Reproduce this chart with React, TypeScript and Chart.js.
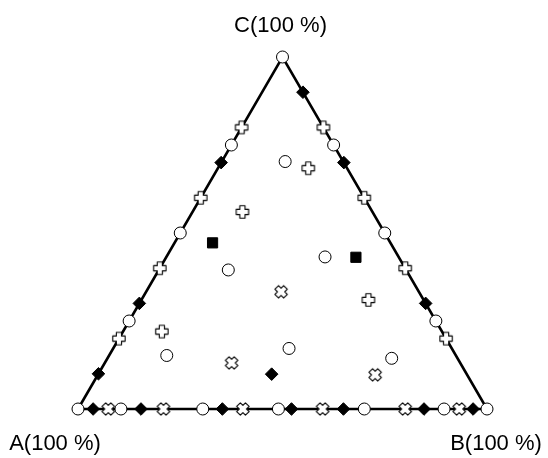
import React, { useEffect, useRef } from "react";
import { Chart, registerables } from "chart.js";

Chart.register(...registerables);

// Compositions as [A %, B %, C %]
const circlePoints: number[][] = [
  [100, 0, 0], [0, 100, 0], [0, 0, 100],
  [89.5, 10.5, 0], [69.5, 30.5, 0], [51, 49, 0], [30, 70, 0], [10.5, 89.5, 0],
  [75, 0, 25], [50, 0, 50], [25, 0, 75],
  [0, 75, 25], [0, 50, 50], [0, 25, 75],
  [43.5, 17, 39.5], [70.7, 14.1, 15.2], [14.2, 15.5, 70.3], [18, 38.8, 43.2],
  [39.8, 43, 17.2], [16.1, 69.5, 14.4],
];
const diamondPoints: number[][] = [
  [96.3, 3.7, 0], [84.6, 15.4, 0], [64.7, 35.3, 0], [47.8, 52.2, 0],
  [35.1, 64.9, 0], [15.4, 84.6, 0], [3.4, 96.6, 0],
  [90, 0, 10], [70, 0, 30], [30, 0, 70],
  [0, 70, 30], [0, 30, 70], [0, 10, 90],
  [47.7, 42.4, 9.9],
];
const squarePoints: number[][] = [
  [43.5, 9.3, 47.2], [10.5, 46.4, 43.1],
];
const plusPoints: number[][] = [
  [80, 0, 20], [60, 0, 40], [40, 0, 60], [20, 0, 80],
  [0, 80, 20], [0, 60, 40], [0, 40, 60], [0, 20, 80],
  [31.8, 12.2, 56], [68.5, 9.5, 22], [9.5, 22.1, 68.4], [13.5, 55.5, 31],
];
const crossPoints: number[][] = [
  [92.6, 7.4, 0], [79.1, 20.9, 0], [59.7, 40.3, 0], [40.2, 59.8, 0],
  [20, 80, 0], [6.8, 93.2, 0],
  [55.9, 31, 13.1], [33.7, 33, 33.3], [22.5, 67.8, 9.7],
];
const triangleVertices: number[][] = [
  [100, 0, 0], [0, 100, 0], [0, 0, 100], [100, 0, 0],
];
const vertexLabels = ["A(100 %)", "B(100 %)", "C(100 %)"];

function toXY(p: number[]) {
  const s = p[0] + p[1] + p[2];
  const b = p[1] / s;
  const c = p[2] / s;
  return { x: b + c / 2, y: c };
}

function makeShape(rotated: boolean): HTMLCanvasElement {
  const s = 16;
  const cv = document.createElement("canvas");
  cv.width = s;
  cv.height = s;
  const ctx = cv.getContext("2d")!;
  ctx.translate(s / 2, s / 2);
  if (rotated) ctx.rotate(Math.PI / 4);
  const w = 2.6;
  const L = 6.2;
  ctx.beginPath();
  ctx.moveTo(-w, -L);
  ctx.lineTo(w, -L);
  ctx.lineTo(w, -w);
  ctx.lineTo(L, -w);
  ctx.lineTo(L, w);
  ctx.lineTo(w, w);
  ctx.lineTo(w, L);
  ctx.lineTo(-w, L);
  ctx.lineTo(-w, w);
  ctx.lineTo(-L, w);
  ctx.lineTo(-L, -w);
  ctx.lineTo(-w, -w);
  ctx.closePath();
  ctx.fillStyle = "#ffffff";
  ctx.fill();
  ctx.lineJoin = "round";
  ctx.lineWidth = 1.1;
  ctx.strokeStyle = "#000000";
  ctx.stroke();
  return cv;
}

const labelPlugin = {
  id: "vertexLabels",
  afterDraw(chart: any) {
    const ctx = chart.ctx;
    const xs = chart.scales.x;
    const ys = chart.scales.y;
    ctx.save();
    ctx.fillStyle = "#000000";
    ctx.font = "22px 'Liberation Sans', Arial, sans-serif";
    ctx.textBaseline = "middle";
    ctx.textAlign = "center";
    const a = toXY(triangleVertices[0]);
    const b = toXY(triangleVertices[1]);
    const c = toXY(triangleVertices[2]);
    ctx.fillText(vertexLabels[0], xs.getPixelForValue(a.x) - 23, ys.getPixelForValue(a.y) + 35);
    ctx.fillText(vertexLabels[1], xs.getPixelForValue(b.x) + 9, ys.getPixelForValue(b.y) + 35);
    ctx.fillText(vertexLabels[2], xs.getPixelForValue(c.x) - 2, ys.getPixelForValue(c.y) - 31);
    ctx.restore();
  },
};

export default function App() {
  const ref = useRef<HTMLCanvasElement | null>(null);
  useEffect(() => {
    if (!ref.current) return;
    const plusImg = makeShape(false);
    const crossImg = makeShape(true);
    const chart = new Chart(ref.current, {
      type: "scatter",
      data: {
        datasets: [
          {
            data: circlePoints.map(toXY),
            pointStyle: "circle",
            pointRadius: 6,
            backgroundColor: "#ffffff",
            borderColor: "#000000",
            borderWidth: 1,
            order: 1,
          } as any,
          {
            data: diamondPoints.map(toXY),
            pointStyle: "rectRot",
            pointRadius: 6.3,
            backgroundColor: "#000000",
            borderColor: "#000000",
            borderWidth: 1,
            order: 2,
          },
          {
            data: squarePoints.map(toXY),
            pointStyle: "rect",
            pointRadius: 7.2,
            backgroundColor: "#000000",
            borderColor: "#000000",
            borderWidth: 1,
            order: 2,
          },
          {
            data: plusPoints.map(toXY),
            pointStyle: plusImg,
            pointRadius: 7,
            order: 2,
          },
          {
            data: crossPoints.map(toXY),
            pointStyle: crossImg,
            pointRadius: 7,
            order: 2,
          },
          {
            type: "line",
            data: triangleVertices.map(toXY),
            showLine: true,
            borderColor: "#000000",
            borderWidth: 2.6,
            pointRadius: 0,
            fill: false,
            tension: 0,
            order: 10,
          } as any,
        ],
      },
      options: {
        animation: false,
        responsive: false,
        maintainAspectRatio: false,
        layout: { padding: 0, autoPadding: false } as any,
        clip: false as any,
        plugins: {
          legend: { display: false },
          tooltip: { enabled: false },
        },
        scales: {
          x: {
            type: "linear",
            display: false,
            min: -78 / 409,
            max: (548 - 78) / 409,
          },
          y: {
            type: "linear",
            display: false,
            min: -49 / 352,
            max: 409 / 352,
          },
        },
      },
      plugins: [labelPlugin],
    });
    return () => chart.destroy();
  }, []);
  return (
    <div style={{ position: "absolute", left: 0, top: 0, width: 548, height: 458, background: "#ffffff" }}>
      <canvas ref={ref} width={548} height={458} style={{ width: 548, height: 458 }} />
    </div>
  );
}
